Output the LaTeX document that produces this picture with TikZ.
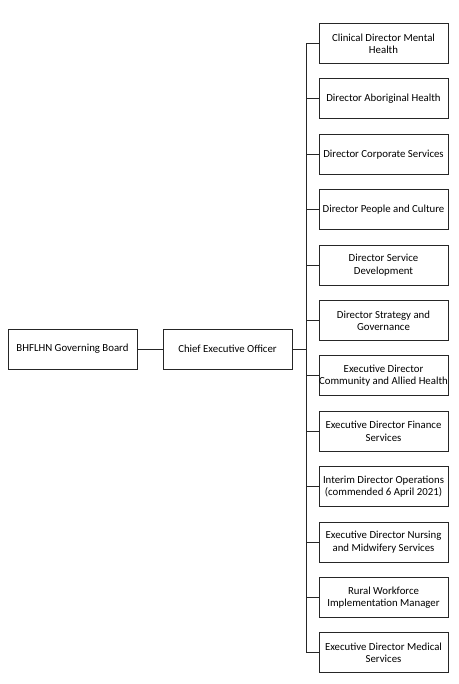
\documentclass[tikz,border=0pt]{standalone}
\usepackage{fontspec}
\setmainfont{Carlito}
\begin{document}
\begin{tikzpicture}[x=1pt,y=-1pt,
  box/.style={draw=black!85,line width=0.9pt,minimum width=129pt,minimum height=40pt,inner sep=0pt,align=center,font=\fontsize{10.8}{12.4}\selectfont,anchor=center},
  conn/.style={draw=black!85,line width=0.9pt}]
\useasboundingbox (0,0) rectangle (458,684);
\fill[white] (0,0) rectangle (458,684);
\node[box] (board) at (72.5,349) {BHFLHN Governing Board};
\node[box] (ceo) at (227.5,349) {Chief Executive Officer};
\coordinate (bus) at (306,349);
\foreach \i/\t in {0/{Clinical Director Mental\\Health},
  1/{Director Aboriginal Health},
  2/{Director Corporate Services},
  3/{Director People and Culture},
  4/{Director Service\\Development},
  5/{Director Strategy and\\Governance},
  6/{Executive Director\\Community and Allied Health},
  7/{Executive Director Finance\\Services},
  8/{Interim Director Operations\\(commended 6 April 2021)},
  9/{Executive Director Nursing\\and Midwifery Services},
  10/{Rural Workforce\\Implementation Manager},
  11/{Executive Director Medical\\Services}}{
  \node[box] (r\i) at (383.5,{43.5+\i*55.4}) {\t};
  \coordinate (b\i) at (306,{43.5+\i*55.4});
  \draw[conn] (b\i) -- (r\i.west);
}
\draw[conn] (board) -- (ceo);
\draw[conn] (ceo) -- (bus);
\draw[conn] (b0) -- (b11);
\end{tikzpicture}
\end{document}
